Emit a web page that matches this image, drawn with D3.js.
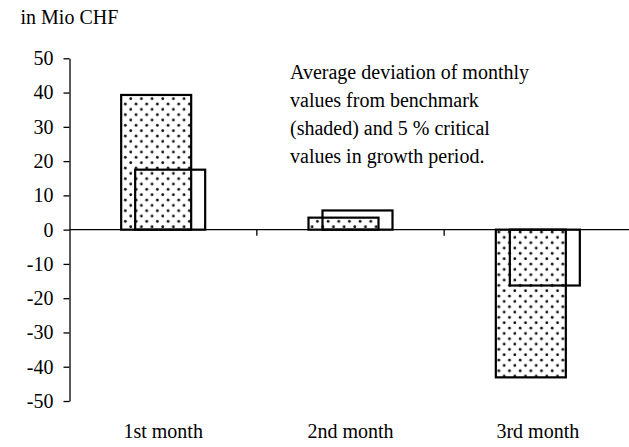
<!DOCTYPE html>
<html>
<head>
<meta charset="utf-8">
<script src="https://cdn.jsdelivr.net/npm/d3@7"></script>
<style>
  body { margin: 0; background: #fff; }
  svg text { font-family: "Liberation Serif", "Times New Roman", Times, serif !important; fill: #000; }
</style>
</head>
<body>
<svg id="svg" width="629" height="447"></svg>
<script>
const WIDTH = 629
const HEIGHT = 447
const SERIF = '"Liberation Serif", "Times New Roman", Times, serif'

const categories = ['1st month', '2nd month', '3rd month']
const benchmark = [39.3, 3.5, -43.1]   // shaded bars
const critical = [17.5, 5.6, -16.3]    // outline bars
const yTicks = [50, 40, 30, 20, 10, 0, -10, -20, -30, -40, -50]
const noteLines = [
  'Average deviation of monthly',
  'values from benchmark',
  '(shaded) and 5 % critical',
  'values in growth period.'
]

const SVG = d3.select('#svg')

const x = d3.scaleBand()
  .domain(categories)
  .range([69.5, 631.5])
  .padding(0)

const y = d3.scaleLinear()
  .domain([-50, 50])
  .range([401, 58.3])

// dotted fill
const defs = SVG.append('defs')
const pat = defs.append('pattern')
  .attr('id', 'dots')
  .attr('patternUnits', 'userSpaceOnUse')
  .attr('width', 10.67)
  .attr('height', 10.67)
pat.append('rect').attr('width', 10.67).attr('height', 10.67).attr('fill', '#fff')
pat.append('circle').attr('cx', 2.67).attr('cy', 2.67).attr('r', 1.4).attr('fill', '#111')
pat.append('circle').attr('cx', 8).attr('cy', 8).attr('r', 1.4).attr('fill', '#111')

const BAR_W = 70

// y axis
const Y_AXIS = SVG.append('g')
  .attr('transform', `translate(${x.range()[0]},0)`)
  .call(d3.axisLeft(y).tickValues(yTicks).tickFormat(d => String(d)).tickSize(6).tickSizeOuter(0).tickPadding(10))
Y_AXIS.attr('font-family', SERIF).attr('font-size', 20)
Y_AXIS.select('.domain').attr('stroke', '#000').attr('stroke-width', 1.3)
Y_AXIS.selectAll('.tick line').attr('stroke', '#000').attr('stroke-width', 1.3)
Y_AXIS.selectAll('.tick text')
  .style('font-family', SERIF)
  .style('font-size', '20px')
  .attr('fill', '#000')

// shaded bars
SVG.selectAll('rect.bench')
  .data(benchmark)
  .enter()
  .append('rect')
  .attr('class', 'bench')
  .attr('x', (d, i) => x(categories[i]) + x.bandwidth() / 2 - 42)
  .attr('y', d => y(Math.max(0, d)))
  .attr('width', BAR_W)
  .attr('height', d => Math.abs(y(d) - y(0)))
  .attr('fill', 'url(#dots)')
  .attr('stroke', '#000')
  .attr('stroke-width', 2.2)

// critical value bars
SVG.selectAll('rect.crit')
  .data(critical)
  .enter()
  .append('rect')
  .attr('class', 'crit')
  .attr('x', (d, i) => x(categories[i]) + x.bandwidth() / 2 - 28)
  .attr('y', d => y(Math.max(0, d)))
  .attr('width', BAR_W)
  .attr('height', d => Math.abs(y(d) - y(0)))
  .attr('fill', 'none')
  .attr('stroke', '#000')
  .attr('stroke-width', 2.2)

// x axis along zero
SVG.append('line')
  .attr('x1', x.range()[0])
  .attr('x2', WIDTH)
  .attr('y1', y(0))
  .attr('y2', y(0))
  .attr('stroke', '#000')
  .attr('stroke-width', 1.3)

SVG.selectAll('line.xtick')
  .data(categories.slice(1))
  .enter()
  .append('line')
  .attr('class', 'xtick')
  .attr('x1', d => x(d))
  .attr('x2', d => x(d))
  .attr('y1', y(0))
  .attr('y2', y(0) + 6)
  .attr('stroke', '#000')
  .attr('stroke-width', 1.3)

// category labels
SVG.selectAll('text.cat')
  .data(categories)
  .enter()
  .append('text')
  .attr('class', 'cat')
  .attr('x', d => x(d) + x.bandwidth() / 2)
  .attr('y', 438)
  .attr('text-anchor', 'middle')
  .style('font-family', SERIF)
  .style('font-size', '20px')
  .text(d => d)

// unit label
SVG.append('text')
  .attr('x', 20.5)
  .attr('y', 24)
  .style('font-family', SERIF)
  .style('font-size', '20px')
  .text('in Mio CHF')

// note
SVG.selectAll('text.note')
  .data(noteLines)
  .enter()
  .append('text')
  .attr('class', 'note')
  .attr('x', 290)
  .attr('y', (d, i) => 79 + i * 28)
  .style('font-family', SERIF)
  .style('font-size', '20px')
  .text(d => d)
</script>
</body>
</html>
